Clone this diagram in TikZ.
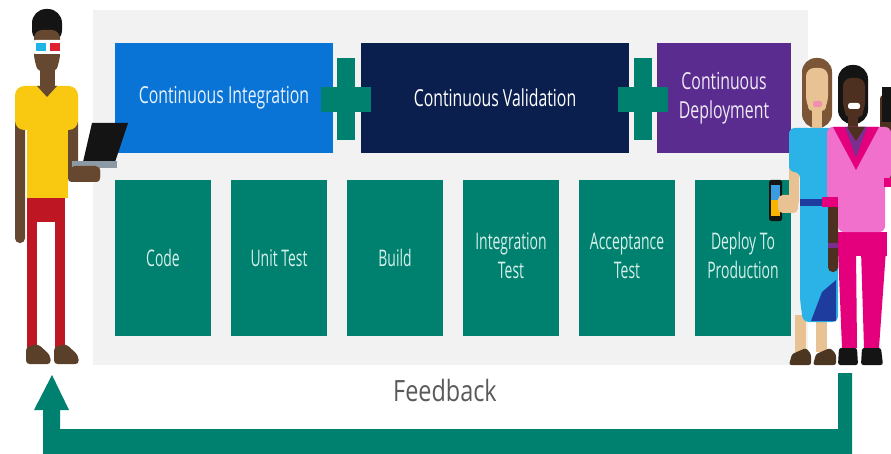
\documentclass[tikz,border=0pt]{standalone}
\usepackage{fontspec}
\setmainfont{Open Sans}
\usepackage{graphicx}

\definecolor{panelgray}{HTML}{F2F2F2}
\definecolor{ciblue}{HTML}{0A74D6}
\definecolor{cvnavy}{HTML}{0B1F4F}
\definecolor{cdpurple}{HTML}{5B2C90}
\definecolor{msteal}{HTML}{00806F}
\definecolor{tasktext}{HTML}{D6F0EA}
\definecolor{fbgray}{HTML}{5A5A5A}
\definecolor{skinbrown}{HTML}{664830}
\definecolor{skinlight}{HTML}{E8C293}
\definecolor{skindeep}{HTML}{4E3020}
\definecolor{shirtyellow}{HTML}{F8C910}
\definecolor{pantsred}{HTML}{BE1622}
\definecolor{shoebrown}{HTML}{5A4028}
\definecolor{hairblack}{HTML}{141414}
\definecolor{hairbrown}{HTML}{7B5535}
\definecolor{laptopgray}{HTML}{8C9AA5}
\definecolor{lenscyan}{HTML}{1EB4E6}
\definecolor{lensred}{HTML}{E0202E}
\definecolor{dressblue}{HTML}{2BB3E8}
\definecolor{beltblue}{HTML}{1E3C9E}
\definecolor{lipspink}{HTML}{F08FB0}
\definecolor{toppink}{HTML}{F070CC}
\definecolor{magenta}{HTML}{E4007C}
\definecolor{camipurple}{HTML}{7A2F8E}
\definecolor{screenyellow}{HTML}{F8B400}
\definecolor{screenblue}{HTML}{3A9BE0}

% squeeze text sideways
\newcommand{\condensed}[2][0.61]{\scalebox{#1}[1]{#2}}

\tikzset{
    stage/.style={minimum height=3.3cm, inner sep=0pt, text=white,
        font=\fontsize{20}{25.6}\selectfont},
    task/.style={fill=msteal, minimum width=2.88cm, minimum height=4.68cm,
        inner sep=0pt, text=tasktext, font=\fontsize{19.5}{24.7}\selectfont},
    joiner/.style={fill=msteal},
    fbtext/.style={text=fbgray, inner sep=0pt, font=\fontsize{25}{30}\selectfont},
    feedback/.style={fill=msteal},
}

\begin{document}
\begin{tikzpicture}[x=0.03cm, y=-0.03cm]
    \useasboundingbox (0,0) rectangle (891,454);
    \fill[white] (0,0) rectangle (891,454);
    \fill[panelgray] (93,10) rectangle (808,365);

    % the three stages
    \node[stage, fill=ciblue, minimum width=6.54cm, text=white!90!ciblue] (ci) at (224,98) {\condensed[0.675]{Continuous Integration}};
    \node[stage, fill=cvnavy, minimum width=8.04cm] (cv) at (495,98) {\condensed[0.675]{Continuous Validation}};
    \node[stage, fill=cdpurple, minimum width=4.02cm, text=white!90!cdpurple] (cd) at (724,98)
        {\condensed[0.675]{\begin{tabular}{@{}c@{}}Continuous\\Deployment\end{tabular}}};

    % plus signs between stages
    \foreach \cx in {346,643} {
        \fill[joiner] (\cx-9,58) rectangle (\cx+9,140);
        \fill[joiner] (\cx-25,87) rectangle (\cx+25,112);
    }

    % pipeline steps
    \node[task] (code) at (163,258) {\condensed{Code}};
    \node[task] (unit) at (279,258) {\condensed{Unit Test}};
    \node[task] (build) at (395,258) {\condensed{Build}};
    \node[task] (integ) at (511,258) {\condensed{\begin{tabular}{@{}c@{}}Integration\\Test\end{tabular}}};
    \node[task] (accept) at (627,258) {\condensed{\begin{tabular}{@{}c@{}}Acceptance\\Test\end{tabular}}};
    \node[task] (deploy) at (743,258) {\condensed{\begin{tabular}{@{}c@{}}Deploy To\\Production\end{tabular}}};

    % feedback loop
    \node[fbtext, anchor=base] (fb) at (445,401) {\condensed[0.8]{Feedback}};
    \coordinate (fbstart) at (845,373);
    \coordinate (fbend) at (52,375);
    \fill[feedback] (838,373) -- (852,373) -- (852,454) -- (43,454) -- (43,410) -- (34,410)
        -- (fbend) -- (69,410) -- (60,410) -- (60,429) -- (838,429) -- cycle;

    % developer with laptop
    \fill[pantsred] (27,196) rectangle (65,222);
    \fill[pantsred] (27,210) rectangle (37,348);
    \fill[pantsred] (55,210) rectangle (65,348);
    \fill[shoebrown, rounded corners=3pt] (26,364) -- (26,347) -- (38,344) -- (50,355) -- (51,364) -- cycle;
    \fill[shoebrown, rounded corners=3pt] (54,364) -- (54,347) -- (66,344) -- (78,355) -- (79,364) -- cycle;
    \fill[skinbrown, rounded corners=4pt] (15,118) rectangle (25,243);
    \fill[skinbrown, rounded corners=3pt] (68,118) -- (68,182) -- (100,182) -- (100,166) -- (78,166) -- (78,118) -- cycle;
    \fill[shirtyellow] (27,118) rectangle (68,198);
    \fill[shirtyellow, rounded corners=8pt] (15,86) rectangle (78,130);
    \fill[skinbrown] (40,64) rectangle (55,88);
    \fill[skinbrown] (37,86) -- (57,86) -- (47,97) -- cycle;
    \fill[hairblack, rounded corners=12pt] (32,9) rectangle (62,44);
    \fill[skinbrown, rounded corners=7pt] (34,30) -- (60,30) -- (60,62) -- (54,74) -- (40,74) -- (34,62) -- cycle;
    \fill[white, rounded corners=1.5pt] (33,40) rectangle (63,54);
    \fill[lenscyan] (36,43) rectangle (46,51);
    \fill[lensred] (50,43) rectangle (60,51);
    \fill[hairblack] (83,162) -- (92,123) -- (128,123) -- (115,162) -- cycle;
    \fill[laptopgray] (72,161) rectangle (117,168);
    \fill[skinbrown, rounded corners=4pt] (70,166) rectangle (100,182);

    % woman in blue dress
    \fill[skinlight] (795,315) rectangle (806,352);
    \fill[skinlight] (816,315) rectangle (827,352);
    \fill[shoebrown!85!black, rounded corners=2pt] (789,365) -- (792,354) -- (806,348) -- (811,354) -- (811,365) -- cycle;
    \fill[shoebrown!85!black, rounded corners=2pt] (813,365) -- (816,354) -- (830,348) -- (836,354) -- (836,365) -- cycle;
    \fill[hairbrown, rounded corners=12pt] (802,58) rectangle (832,128);
    \fill[skinlight] (812,105) rectangle (822,130);
    \fill[skinlight, rounded corners=7pt] (806,68) -- (828,68) -- (828,104) -- (822,114) -- (812,114) -- (806,104) -- cycle;
    \fill[lipspink, rounded corners=2pt] (813,101) rectangle (822,107);
    \fill[skinlight, rounded corners=4pt] (789,160) rectangle (799,206);
    \fill[dressblue, rounded corners=5pt] (789,172) -- (789,128) -- (838,128) -- (838,322) -- (803,322) -- (800,300) -- (800,172) -- cycle;
    \fill[beltblue] (811,321) -- (822,292) -- (836,280) -- (836,321) -- cycle;
    \fill[beltblue] (800,199) rectangle (838,206);
    \fill[hairblack, rounded corners=1.5pt] (769,180) rectangle (782,221);
    \fill[screenblue] (771,185) rectangle (780,200);
    \fill[screenyellow] (771,200) rectangle (780,216);
    \fill[skinlight, rounded corners=4pt] (778,195) rectangle (798,213);

    % woman in pink
    \fill[magenta] (837,232) rectangle (887,256);
    \fill[magenta] (838,250) -- (856,250) -- (857,348) -- (842,348) -- cycle;
    \fill[magenta] (861,250) -- (886,250) -- (879,348) -- (864,348) -- cycle;
    \fill[hairblack, rounded corners=2pt] (838,365) -- (839,348) -- (857,348) -- (858,365) -- cycle;
    \fill[hairblack, rounded corners=2pt] (861,365) -- (862,348) -- (881,348) -- (883,365) -- cycle;
    \fill[skindeep, rounded corners=4pt] (828,200) rectangle (838,272);
    \fill[camipurple] (828,243) rectangle (838,248);
    \fill[skindeep, rounded corners=3pt] (880,95) rectangle (891,185);
    \fill[hairblack] (882,87) rectangle (891,122);
    \fill[hairblack, rounded corners=12pt] (838,65) rectangle (868,124);
    \fill[skindeep] (848,110) rectangle (858,135);
    \fill[skindeep, rounded corners=7pt] (843,78) -- (865,78) -- (865,110) -- (859,120) -- (849,120) -- (843,110) -- cycle;
    \fill[white, rounded corners=2pt] (848,103) rectangle (860,109);
    \fill[toppink, rounded corners=5pt] (827,200) -- (827,127) -- (891,127) -- (891,180) -- (885,180) -- (885,232) -- (838,232) -- (838,200) -- cycle;
    \fill[magenta] (822,197) rectangle (838,207);
    \fill[magenta] (884,178) rectangle (891,187);
    \fill[magenta] (833,127) -- (856,170) -- (879,127) -- cycle;
    \fill[camipurple] (845,127) -- (856,158) -- (867,127) -- cycle;
    \fill[skindeep] (847,127) -- (856,141) -- (865,127) -- cycle;
\end{tikzpicture}
\end{document}
